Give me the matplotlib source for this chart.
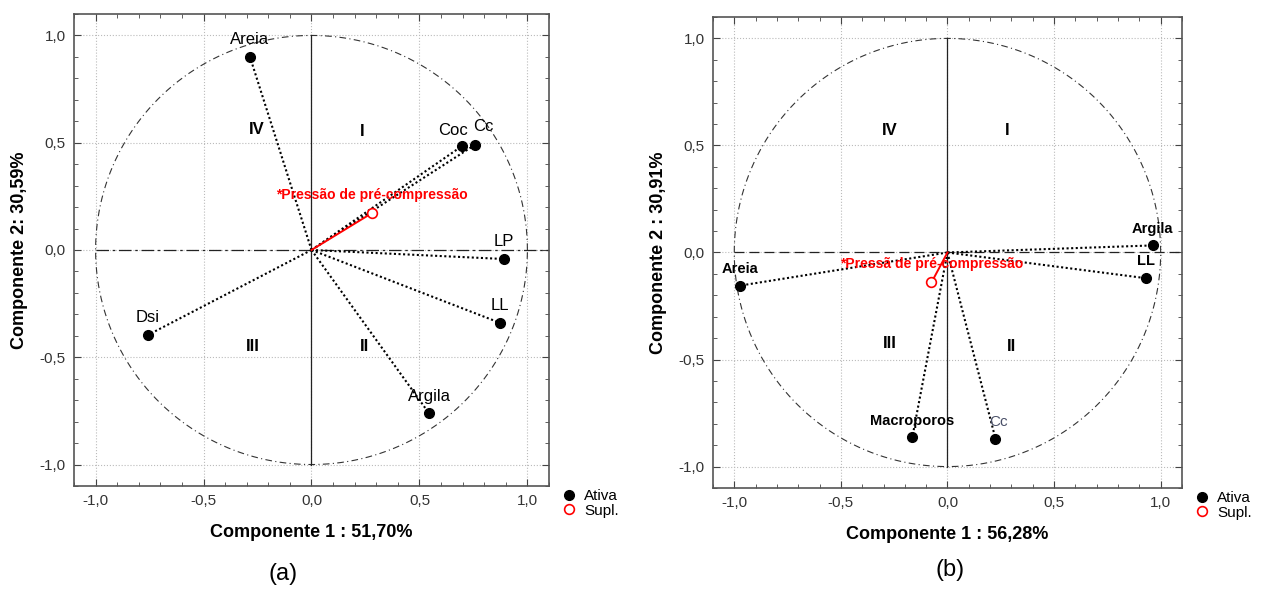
import matplotlib
matplotlib.use('Agg')
import matplotlib.pyplot as plt
from matplotlib.ticker import MultipleLocator, FuncFormatter
import numpy as np

plt.rcParams['font.family'] = ['Liberation Sans', 'DejaVu Sans']

# painel (a)
a_nomes = ['Areia', 'Coc', 'Cc', 'LP', 'LL', 'Argila', 'Dsi']
a_x = [-0.285, 0.695, 0.757, 0.89, 0.874, 0.545, -0.757]
a_y = [0.90, 0.483, 0.49, -0.042, -0.34, -0.762, -0.396]
a_sup_nome = '*Pressão de pré-compressão'
a_sup = (0.28, 0.172)
a_comp1 = 'Componente 1 : 51,70%'
a_comp2 = 'Componente 2: 30,59%'

# painel (b)
b_nomes = ['Argila', 'LL', 'Areia', 'Macroporos', 'Cc']
b_x = [0.962, 0.93, -0.975, -0.165, 0.225]
b_y = [0.033, -0.12, -0.155, -0.864, -0.869]
b_sup_nome = '*Pressã de pré-compressão'
b_sup = (-0.075, -0.14)
b_comp1 = 'Componente 1 : 56,28%'
b_comp2 = 'Componente 2 : 30,91%'

quadrantes = ['I', 'II', 'III', 'IV']
a_quad = [(0.235, 0.55), (0.245, -0.45), (-0.27, -0.45), (-0.255, 0.56)]
b_quad = [(0.28, 0.57), (0.30, -0.44), (-0.27, -0.425), (-0.27, 0.57)]

fmt = FuncFormatter(lambda v, p: ('%.1f' % v).replace('.', ',').replace('-0,0', '0,0'))

# deslocamento dos rotulos (pontos) para evitar sobreposicao Coc/Cc
desloc = {'Coc': (-6, 6), 'Cc': (6, 8)}


def circulo(ax, nomes, xs, ys, sup_nome, sup, comp1, comp2, quad, hline, bold, cor_cc):
    t = np.linspace(0, 2 * np.pi, 400)
    ax.plot(np.cos(t), np.sin(t), color='#333333', lw=0.8, ls=(0, (6, 3, 1, 3)))
    ax.plot([0, 0], [-1, 1], color='#222222', lw=0.9)
    ax.plot([-1, 1.1], [0, 0], color='#222222', lw=0.9, ls=hline)

    for x, y in zip(xs, ys):
        ax.plot([0, x], [0, y], color='k', lw=1.5, ls=(0, (1, 1.2)))
    ax.plot([0, sup[0]], [0, sup[1]], color='red', lw=1.4)

    ax.plot(xs, ys, 'o', color='k', ms=7, label='Ativa', zorder=5)
    ax.plot([sup[0]], [sup[1]], 'o', mfc='white', mec='red', mew=1.2, ms=7,
            label='Supl.', zorder=5)

    for n, x, y in zip(nomes, xs, ys):
        if bold and n != 'Cc':
            ax.annotate(n, (x, y), xytext=(0, 7), textcoords='offset points',
                        ha='center', va='bottom', fontsize=10.5, fontweight='bold')
        elif bold:
            ax.annotate(n, (x, y), xytext=(2, 7), textcoords='offset points',
                        ha='center', va='bottom', fontsize=11, color=cor_cc)
        else:
            ax.annotate(n, (x, y), xytext=desloc.get(n, (0, 7)), textcoords='offset points',
                        ha='center', va='bottom', fontsize=12)
    ax.annotate(sup_nome, sup, xytext=(0, 8), textcoords='offset points',
                ha='center', va='bottom', fontsize=10, fontweight='bold', color='red')

    for q, (x, y) in zip(quadrantes, quad):
        ax.text(x, y, q, ha='center', va='center', fontsize=12, fontweight='bold')

    ax.set_xlim(-1.1, 1.1)
    ax.set_ylim(-1.1, 1.1)
    ax.xaxis.set_major_locator(MultipleLocator(0.5))
    ax.yaxis.set_major_locator(MultipleLocator(0.5))
    ax.xaxis.set_minor_locator(MultipleLocator(0.1))
    ax.yaxis.set_minor_locator(MultipleLocator(0.1))
    ax.xaxis.set_major_formatter(fmt)
    ax.yaxis.set_major_formatter(fmt)
    ax.tick_params(which='both', direction='in', top=True, right=True,
                   labelsize=11, labelcolor='#333333', color='#444444')
    ax.tick_params(which='major', length=5, pad=6)
    ax.tick_params(which='minor', length=3)
    ax.grid(True, which='major', color='#bbbbbb', ls=':', lw=0.8)
    for s in ax.spines.values():
        s.set_color('#555555')
        s.set_linewidth(1.2)

    ax.set_xlabel(comp1, fontsize=13, fontweight='bold', labelpad=11)
    ax.set_ylabel(comp2, fontsize=13, fontweight='bold', labelpad=8)
    ax.legend(loc='upper left', bbox_to_anchor=(1.02, 0.0), frameon=False,
              fontsize=11, handlelength=1.0, handletextpad=0.5,
              labelspacing=0.05, borderaxespad=0.0, borderpad=0.2)


fig = plt.figure(figsize=(12.67, 5.90), dpi=100)
ax1 = fig.add_axes([0.0584, 0.1763, 0.3749, 0.8000])
ax2 = fig.add_axes([0.5627, 0.1729, 0.3702, 0.7983])

circulo(ax1, a_nomes, a_x, a_y, a_sup_nome, a_sup, a_comp1, a_comp2, a_quad,
        (0, (10, 3, 2, 3)), False, 'k')
circulo(ax2, b_nomes, b_x, b_y, b_sup_nome, b_sup, b_comp1, b_comp2, b_quad,
        (0, (8, 4)), True, '#4a5068')

fig.text(283 / 1267, 1 - 574 / 590, '(a)', ha='center', va='center', fontsize=17)
fig.text(950 / 1267, 1 - 570 / 590, '(b)', ha='center', va='center', fontsize=17)

fig.savefig('out.png', dpi=100)
